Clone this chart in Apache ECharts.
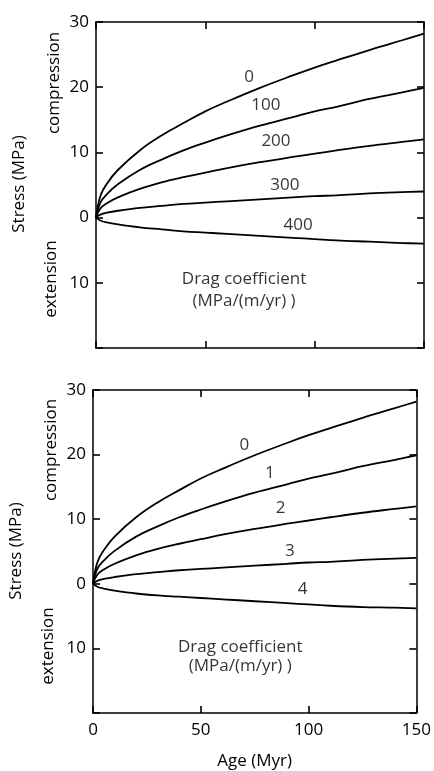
<!DOCTYPE html>
<html><head><meta charset="utf-8">
<script src="https://cdn.jsdelivr.net/npm/echarts@6/dist/echarts.min.js"></script>
<style>html,body{margin:0;padding:0;background:#fff}#c{width:434px;height:771px}</style>
</head><body><div id="c"></div>
<script>
// Age (Myr)
const ages = [0, 2, 5, 10, 20, 30, 40, 50, 60, 75, 90, 100, 110, 125, 140, 150];
// Top panel: drag coefficient 0,100,200,300,400 (MPa/(m/yr))
const topCurve0   = [0, 3.3, 5.2, 7.3, 10.3, 12.6, 14.5, 16.3, 17.8, 19.9, 21.8, 23.0, 24.1, 25.7, 27.2, 28.2];
const topCurve100 = [0, 2.3, 3.6, 5.1, 7.3, 8.9, 10.3, 11.5, 12.6, 14.1, 15.4, 16.3, 17.0, 18.2, 19.2, 19.9];
const topCurve200 = [0, 1.4, 2.2, 3.1, 4.4, 5.4, 6.2, 6.9, 7.6, 8.5, 9.3, 9.8, 10.3, 11.0, 11.6, 12.0];
const topCurve300 = [0, 0.45, 0.75, 1.05, 1.5, 1.8, 2.1, 2.3, 2.5, 2.8, 3.1, 3.3, 3.4, 3.7, 3.9, 4.0];
const topCurve400 = [0, -0.45, -0.75, -1.05, -1.5, -1.8, -2.1, -2.3, -2.5, -2.8, -3.1, -3.3, -3.5, -3.7, -3.9, -4.0];
// Bottom panel: drag coefficient 0,1,2,3,4
const botCurve0 = [0, 3.3, 5.2, 7.3, 10.3, 12.6, 14.5, 16.3, 17.8, 19.9, 21.8, 23.0, 24.1, 25.7, 27.2, 28.2];
const botCurve1 = [0, 2.3, 3.6, 5.1, 7.3, 8.9, 10.3, 11.5, 12.6, 14.1, 15.4, 16.3, 17.0, 18.2, 19.2, 19.9];
const botCurve2 = [0, 1.4, 2.2, 3.1, 4.4, 5.4, 6.2, 6.9, 7.6, 8.5, 9.3, 9.8, 10.3, 11.0, 11.6, 12.0];
const botCurve3 = [0, 0.45, 0.75, 1.05, 1.5, 1.8, 2.1, 2.3, 2.5, 2.8, 3.1, 3.3, 3.4, 3.7, 3.9, 4.0];
const botCurve4 = [0, -0.45, -0.75, -1.05, -1.5, -1.8, -2.0, -2.2, -2.4, -2.7, -3.0, -3.2, -3.4, -3.6, -3.7, -3.8];
// tick labels
const xTicks = [0, 50, 100, 150];
const yTicks = [30, 20, 10, 0, -10];
// curve labels [age, stress, text]
const topLabels = [[70, 21.6, '0'], [77.7, 17.2, '100'], [82.3, 11.8, '200'], [86.4, 4.9, '300'], [92.4, -1.1, '400']];
const botLabels = [[70.2, 21.5, '0'], [82, 17.1, '1'], [87, 11.7, '2'], [91.3, 5.1, '3'], [97.2, -0.9, '4']];
const noteTop = [[67.7, -9.5, 'Drag coefficient'], [67.7, -12.8, '(MPa/(m/yr) )']];
const noteBot = [[68.3, -9.8, 'Drag coefficient'], [68.3, -12.8, '(MPa/(m/yr) )']];

const FONT = 'Open Sans';
const FS = 17;
const INK = '#000';

function pairs(ys) { return ages.map((a, i) => [a, ys[i]]); }

const chart = echarts.init(document.getElementById('c'), null, {renderer: 'canvas'});

function yAxisDef(grid, pos, showLabels) {
  return {
    type: 'value', gridIndex: grid, position: pos, min: -20, max: 30, interval: 10,
    axisLine: {show: true, onZero: false, lineStyle: {color: INK, width: 1.5}},
    axisTick: {show: true, inside: true, length: 7, lineStyle: {color: INK, width: 1.6}},
    splitLine: {show: false},
    axisLabel: {show: showLabels, margin: 7, fontFamily: FONT, fontSize: FS, color: INK,
      formatter: v => (yTicks.indexOf(v) >= 0 ? String(Math.abs(v)) : '')}
  };
}
function xAxisDef(grid, pos, showLabels, name) {
  return {
    type: 'value', gridIndex: grid, position: pos, min: 0, max: 150, interval: 50,
    axisLine: {show: true, onZero: false, lineStyle: {color: INK, width: 1.5}},
    axisTick: {show: true, inside: true, length: 7, lineStyle: {color: INK, width: 1.6}},
    splitLine: {show: false},
    axisLabel: {show: showLabels, margin: 9, fontFamily: FONT, fontSize: FS, color: INK,
      formatter: v => (xTicks.indexOf(v) >= 0 ? String(v) : '')},
    name: name || '', nameLocation: 'middle', nameGap: 40,
    nameTextStyle: {fontFamily: FONT, fontSize: FS, color: INK}
  };
}
function lineSeries(xi, yi, ys) {
  return {type: 'line', xAxisIndex: xi, yAxisIndex: yi, data: pairs(ys), smooth: 0.4,
    showSymbol: false, symbol: 'none', lineStyle: {color: INK, width: 1.8}, silent: true, z: 3};
}
function labelSeries(xi, yi, arr) {
  return {type: 'scatter', xAxisIndex: xi, yAxisIndex: yi, symbolSize: 0, silent: true,
    data: arr.map(d => ({value: [d[0], d[1]], name: d[2]})),
    label: {show: true, position: 'inside', formatter: p => p.name, fontFamily: FONT, fontSize: FS, color: INK}, z: 4};
}

const option = {
  animation: false,
  backgroundColor: '#fff',
  grid: [
    {left: 96, right: 10, top: 22, height: 326},
    {left: 93, right: 13, top: 390, height: 325}
  ],
  xAxis: [
    xAxisDef(0, 'bottom', false), xAxisDef(0, 'top', false),
    xAxisDef(1, 'bottom', true, 'Age (Myr)'), xAxisDef(1, 'top', false)
  ],
  yAxis: [
    yAxisDef(0, 'left', true), yAxisDef(0, 'right', false),
    yAxisDef(1, 'left', true), yAxisDef(1, 'right', false)
  ],
  series: [
    lineSeries(0, 0, topCurve0), lineSeries(0, 0, topCurve100), lineSeries(0, 0, topCurve200),
    lineSeries(0, 0, topCurve300), lineSeries(0, 0, topCurve400),
    lineSeries(2, 2, botCurve0), lineSeries(2, 2, botCurve1), lineSeries(2, 2, botCurve2),
    lineSeries(2, 2, botCurve3), lineSeries(2, 2, botCurve4),
    labelSeries(0, 0, topLabels.concat(noteTop)),
    labelSeries(2, 2, botLabels.concat(noteBot))
  ],
  graphic: [
    {type: 'text', x: 19, y: 184, rotation: Math.PI / 2, style: {text: 'Stress (MPa)', fontFamily: FONT, fontSize: FS, fill: INK, align: 'center', verticalAlign: 'middle'}},
    {type: 'text', x: 54, y: 83, rotation: Math.PI / 2, style: {text: 'compression', fontFamily: FONT, fontSize: FS, fill: INK, align: 'center', verticalAlign: 'middle'}},
    {type: 'text', x: 51, y: 279, rotation: Math.PI / 2, style: {text: 'extension', fontFamily: FONT, fontSize: FS, fill: INK, align: 'center', verticalAlign: 'middle'}},
    {type: 'text', x: 16, y: 551, rotation: Math.PI / 2, style: {text: 'Stress (MPa)', fontFamily: FONT, fontSize: FS, fill: INK, align: 'center', verticalAlign: 'middle'}},
    {type: 'text', x: 51, y: 450, rotation: Math.PI / 2, style: {text: 'compression', fontFamily: FONT, fontSize: FS, fill: INK, align: 'center', verticalAlign: 'middle'}},
    {type: 'text', x: 48, y: 646, rotation: Math.PI / 2, style: {text: 'extension', fontFamily: FONT, fontSize: FS, fill: INK, align: 'center', verticalAlign: 'middle'}}
  ]
};
chart.setOption(option);
</script>
</body></html>
